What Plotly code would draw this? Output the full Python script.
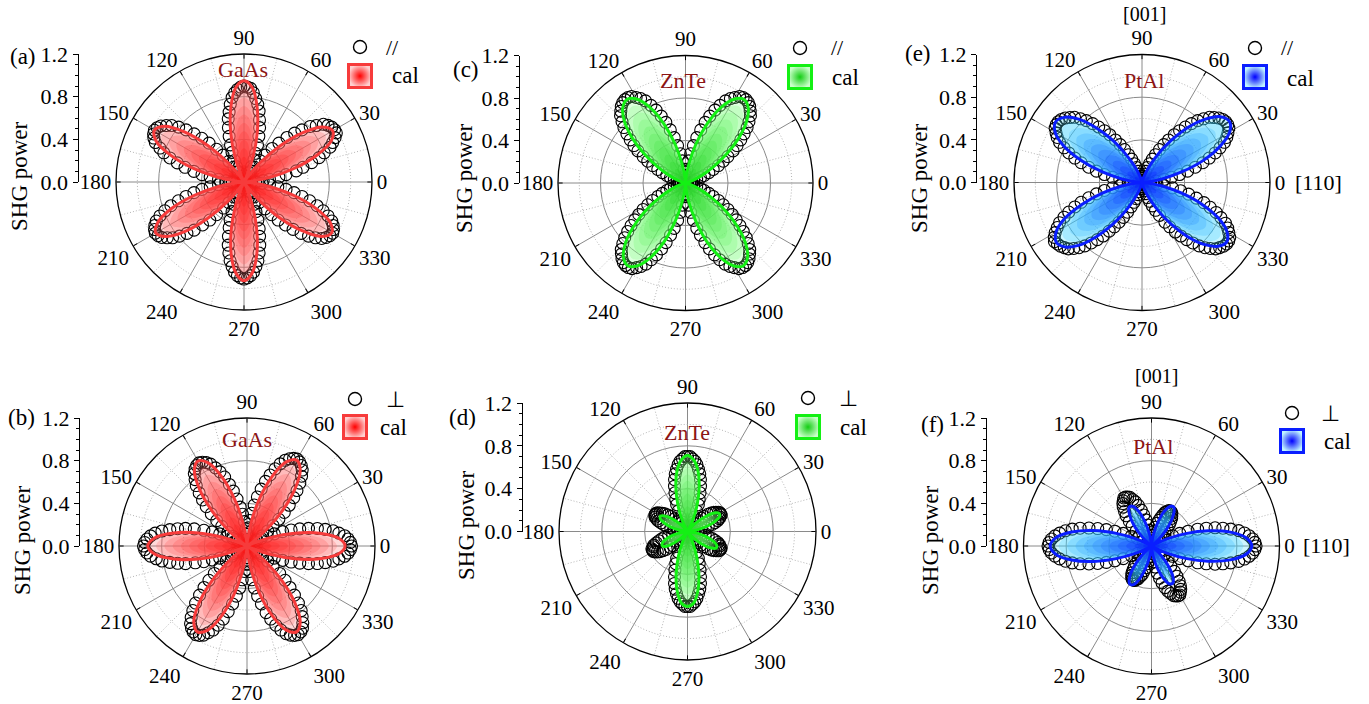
import plotly.graph_objects as go

W, H = 1369, 704
SERIF = "Liberation Serif, Times New Roman, serif"

# ---------------------------------------------------------------- data
THETA_MEAS = list(range(0, 360, 2))   # measured points every 2 deg
THETA_CAL = list(range(0, 360, 5))    # calculated curve every 5 deg

# (a) GaAs, parallel
GAAS_PAR_MEAS = [
    .07, .11, .18, .24, .33, .40, .50, .57, .66, .74, .80, .87, .91, .95, .98,
    .98, .97, .95, .92, .86, .81, .73, .66, .58, .49, .41, .32, .25, .17, .12,
    .06, .10, .16, .23, .29, .37, .45, .53, .60, .68, .74, .79, .84, .88, .89,
    .90, .89, .87, .84, .80, .74, .67, .61, .53, .45, .37, .30, .22, .16, .11,
    .06, .11, .17, .24, .32, .40, .49, .57, .65, .73, .80, .86, .90, .94, .96,
    .97, .96, .94, .91, .85, .80, .73, .65, .57, .48, .40, .32, .24, .17, .11,
    .07, .11, .17, .24, .32, .40, .48, .56, .64, .72, .79, .85, .90, .93, .95,
    .96, .95, .93, .89, .85, .79, .72, .65, .56, .48, .40, .31, .24, .17, .11,
    .06, .11, .16, .23, .30, .38, .45, .53, .61, .68, .75, .80, .85, .88, .90,
    .91, .90, .88, .85, .80, .75, .68, .61, .53, .46, .38, .30, .23, .16, .10,
    .06, .11, .17, .24, .32, .40, .48, .56, .64, .72, .79, .85, .90, .93, .95,
    .96, .95, .93, .90, .85, .79, .72, .64, .56, .48, .40, .32, .24, .17, .11,
]
GAAS_PAR_CAL = [
    0, .06, .24, .48, .72, .90,
    .96, .90, .72, .48, .24, .06,
    0, .06, .24, .48, .71, .89,
    .95, .89, .71, .48, .24, .06,
    0, .07, .24, .49, .73, .91,
    .97, .91, .73, .49, .24, .07,
    0, .06, .24, .48, .72, .89,
    .955, .89, .72, .48, .24, .06,
    0, .06, .23, .46, .69, .86,
    .925, .86, .69, .46, .23, .06,
    0, .06, .24, .48, .71, .89,
    .95, .89, .71, .48, .24, .06,
]

# (b) GaAs, perpendicular
GAAS_PERP_MEAS = [
    .98, .97, .95, .92, .87, .82, .75, .68, .60, .52, .44, .36, .28, .21, .15,
    .08, .11, .17, .24, .31, .39, .47, .55, .63, .70, .77, .83, .88, .91, .93,
    .94, .93, .91, .88, .83, .77, .70, .63, .55, .47, .39, .31, .24, .17, .11,
    .06, .11, .16, .23, .30, .37, .45, .53, .60, .68, .74, .79, .84, .87, .89,
    .90, .89, .87, .84, .79, .74, .67, .60, .53, .45, .37, .30, .22, .16, .11,
    .08, .15, .21, .28, .35, .43, .52, .60, .67, .74, .81, .87, .91, .94, .96,
    .97, .96, .94, .91, .86, .81, .74, .67, .60, .51, .43, .35, .28, .21, .15,
    .08, .11, .17, .24, .32, .40, .48, .56, .64, .72, .79, .85, .90, .93, .95,
    .96, .95, .93, .89, .85, .79, .72, .64, .56, .48, .40, .32, .24, .17, .11,
    .06, .11, .17, .24, .32, .40, .48, .56, .65, .72, .79, .85, .90, .93, .95,
    .96, .95, .93, .89, .84, .79, .72, .64, .56, .48, .40, .31, .24, .17, .11,
    .08, .15, .21, .28, .36, .44, .52, .60, .68, .75, .82, .87, .92, .95, .97,
]
GAAS_PERP_CAL = [
    .92, .86, .69, .46, .23, .06,
    0, .06, .23, .47, .70, .87,
    .93, .87, .70, .47, .23, .06,
    0, .06, .23, .46, .69, .86,
    .92, .86, .69, .46, .23, .06,
    0, .06, .23, .47, .70, .87,
    .93, .87, .70, .47, .23, .06,
    0, .06, .23, .47, .70, .87,
    .93, .87, .70, .47, .23, .06,
    0, .06, .23, .47, .70, .87,
    .93, .87, .70, .47, .23, .06,
    0, .06, .23, .46, .69, .86,
]

# (c) ZnTe, parallel
ZNTE_PAR_MEAS = [
    0, 0, 0, 0, .01, .02, .04, .06, .08, .11, .15, .19, .24, .29, .35,
    .41, .47, .54, .60, .66, .72, .78, .83, .88, .91, .94, .96, .97, .97, .96,
    .93, .90, .86, .80, .74, .67, .60, .52, .44, .36, .28, .21, .13, .07, .03,
    0, .03, .07, .13, .21, .28, .36, .44, .52, .60, .67, .74, .80, .86, .90,
    .93, .96, .97, .97, .96, .94, .91, .88, .83, .78, .72, .66, .60, .54, .47,
    .41, .35, .29, .24, .19, .15, .11, .08, .06, .04, .02, .01, 0, 0, 0,
    0, 0, 0, 0, .01, .02, .04, .06, .08, .11, .15, .19, .24, .29, .35,
    .41, .47, .53, .59, .65, .71, .77, .82, .87, .90, .93, .95, .96, .96, .95,
    .92, .89, .85, .79, .73, .66, .59, .51, .44, .36, .28, .21, .13, .07, .03,
    0, .03, .07, .13, .21, .28, .36, .44, .51, .59, .66, .73, .79, .85, .89,
    .92, .95, .96, .96, .95, .93, .90, .87, .82, .77, .71, .65, .59, .53, .47,
    .41, .35, .29, .24, .19, .15, .11, .08, .06, .04, .02, .01, 0, 0, 0,
]
ZNTE_PAR_CAL = [
    0, 0, .01, .03, .08, .17,
    .30, .47, .65, .81, .92, .96,
    .91, .78, .59, .38, .18, .05,
    0, .05, .18, .38, .59, .78,
    .91, .96, .92, .81, .65, .47,
    .30, .17, .08, .03, .01, 0,
    0, 0, .01, .03, .08, .17,
    .30, .47, .64, .80, .91, .95,
    .90, .77, .59, .37, .18, .05,
    0, .05, .18, .37, .59, .77,
    .90, .95, .91, .80, .64, .47,
    .30, .17, .08, .03, .01, 0,
]

# (d) ZnTe, perpendicular
ZNTE_PERP_MEAS = [
    .01, .01, .04, .06, .10, .13, .17, .20, .24, .27, .30, .32, .33, .35, .35,
    .35, .34, .32, .30, .28, .25, .21, .18, .14, .10, .06, .03, .01, .01, .03,
    .06, .10, .15, .21, .27, .32, .38, .44, .50, .55, .59, .63, .66, .68, .70,
    .70, .70, .68, .66, .63, .59, .55, .50, .44, .38, .32, .27, .21, .15, .10,
    .06, .03, .01, .01, .03, .06, .10, .13, .17, .21, .24, .27, .29, .31, .33,
    .34, .34, .34, .33, .31, .29, .26, .23, .20, .16, .13, .09, .06, .03, .01,
    .01, .01, .04, .07, .10, .14, .18, .22, .25, .28, .31, .34, .35, .37, .37,
    .37, .36, .34, .32, .29, .26, .22, .19, .14, .10, .07, .03, .01, .01, .03,
    .06, .10, .15, .21, .27, .32, .38, .44, .50, .55, .59, .63, .66, .68, .70,
    .70, .70, .68, .66, .63, .59, .55, .50, .44, .38, .32, .27, .21, .15, .10,
    .06, .03, .01, .01, .03, .06, .10, .14, .18, .21, .25, .28, .30, .32, .34,
    .35, .35, .35, .33, .32, .30, .27, .24, .20, .17, .13, .10, .06, .04, .01,
]
ZNTE_PERP_CAL = [
    0, .03, .09, .19, .27, .33,
    .34, .30, .21, .12, .04, 0,
    .03, .12, .26, .42, .57, .67,
    .71, .67, .57, .42, .26, .12,
    .03, 0, .03, .10, .18, .25,
    .29, .28, .23, .16, .08, .02,
    0, .02, .07, .15, .22, .26,
    .27, .24, .17, .09, .03, 0,
    .03, .12, .25, .41, .56, .67,
    .70, .67, .56, .41, .25, .12,
    .03, 0, .03, .11, .20, .27,
    .31, .30, .25, .17, .09, .02,
]

# (e) PtAl, parallel
PTAL_PAR_MEAS = [
    0, .03, .07, .13, .21, .28, .36, .44, .52, .60, .67, .74, .80, .86, .90,
    .93, .96, .97, .97, .96, .94, .91, .88, .83, .78, .72, .66, .60, .54, .47,
    .41, .35, .29, .24, .19, .15, .11, .08, .06, .04, .02, .01, 0, 0, 0,
    0, 0, 0, 0, .01, .02, .04, .06, .08, .11, .15, .19, .24, .29, .35,
    .41, .47, .54, .60, .66, .72, .78, .83, .88, .91, .94, .96, .97, .97, .96,
    .93, .90, .86, .80, .74, .67, .60, .52, .44, .36, .28, .21, .13, .07, .03,
    0, .03, .07, .13, .21, .28, .36, .44, .52, .60, .67, .74, .80, .86, .90,
    .94, .97, .99, .98, .97, .95, .93, .89, .85, .80, .74, .68, .62, .55, .49,
    .43, .37, .31, .25, .20, .16, .12, .09, .06, .04, .02, .01, 0, 0, 0,
    0, 0, 0, 0, .01, .02, .04, .06, .08, .11, .15, .19, .24, .29, .35,
    .43, .49, .56, .62, .68, .74, .80, .85, .89, .93, .95, .97, .98, .98, .97,
    .94, .91, .87, .81, .75, .68, .61, .53, .45, .37, .29, .21, .14, .08, .03,
]
PTAL_PAR_CAL = [
    0, .05, .19, .39, .62, .81,
    .95, 1.0, .96, .84, .68, .49,
    .32, .18, .08, .03, .01, 0,
    0, 0, .01, .03, .08, .18,
    .31, .49, .67, .84, .95, .99,
    .94, .81, .61, .39, .19, .05,
    0, .05, .19, .39, .60, .80,
    .93, .98, .94, .83, .66, .48,
    .31, .17, .08, .03, .01, 0,
    0, 0, .01, .03, .08, .17,
    .31, .48, .66, .82, .93, .97,
    .92, .79, .60, .38, .19, .05,
]

# (f) PtAl, perpendicular
PTAL_PERP_MEAS = [
    .98, .97, .95, .92, .88, .83, .76, .69, .62, .54, .46, .37, .29, .22, .15,
    .09, .04, .01, .01, .03, .07, .10, .14, .18, .22, .26, .29, .32, .34, .36,
    .37, .37, .37, .35, .34, .31, .28, .25, .22, .18, .14, .10, .07, .04, .01,
    0, .02, .05, .10, .15, .20, .25, .30, .35, .40, .44, .47, .50, .51, .52,
    .52, .50, .48, .45, .41, .37, .31, .26, .20, .15, .09, .05, .01, .01, .04,
    .09, .15, .21, .29, .37, .45, .53, .61, .69, .76, .82, .87, .91, .94, .96,
    .97, .96, .94, .91, .87, .82, .76, .69, .61, .53, .45, .37, .29, .21, .15,
    .09, .04, .01, .01, .03, .07, .10, .14, .18, .22, .25, .28, .31, .33, .35,
    .36, .36, .36, .34, .33, .30, .28, .24, .21, .17, .14, .10, .07, .04, .01,
    0, .02, .05, .10, .15, .20, .26, .31, .36, .41, .45, .48, .51, .52, .53,
    .53, .51, .49, .46, .42, .37, .32, .26, .21, .15, .10, .05, .01, .01, .04,
    .09, .15, .22, .29, .37, .46, .54, .62, .69, .76, .83, .88, .92, .95, .97,
]
PTAL_PERP_CAL = [
    .94, .89, .75, .55, .34, .16,
    .04, 0, .04, .14, .26, .36,
    .42, .41, .34, .23, .12, .03,
    0, .03, .12, .23, .34, .41,
    .42, .36, .26, .14, .04, 0,
    .04, .16, .34, .56, .76, .90,
    .95, .90, .76, .56, .34, .16,
    .04, 0, .04, .14, .26, .36,
    .41, .40, .33, .22, .11, .03,
    0, .03, .11, .22, .32, .39,
    .40, .35, .25, .14, .04, 0,
    .04, .16, .34, .55, .75, .89,
]

for arr in (GAAS_PAR_MEAS, GAAS_PERP_MEAS, ZNTE_PAR_MEAS, ZNTE_PERP_MEAS, PTAL_PAR_MEAS, PTAL_PERP_MEAS):
    assert len(arr) == len(THETA_MEAS)
for arr in (GAAS_PAR_CAL, GAAS_PERP_CAL, ZNTE_PAR_CAL, ZNTE_PERP_CAL, PTAL_PAR_CAL, PTAL_PERP_CAL):
    assert len(arr) == len(THETA_CAL)

R_MAX = 1.2
RADIAL_MAJOR = [0.4, 0.8]
RADIAL_MINOR = [0.2, 0.6, 1.0]
ANGLE_MINOR = [15 + 30 * i for i in range(12)]

# ---------------------------------------------------------------- styles
SCHEMES = {
    "red":   dict(line="#f73b3b", tip=(255, 110, 110), core=(255, 0, 0),  icon_edge="#ffd0d0"),
    "green": dict(line="#14f014", tip=(130, 255, 130), core=(20, 205, 20), icon_edge="#c8ffc8"),
    "blue":  dict(line="#0a1eff", tip=(60, 220, 255),  core=(0, 0, 255),  icon_edge="#bff4ff"),
}
N_LAYERS = 12
LAYER_ALPHA = 0.26
GRID_SOLID = "#8a8a8a"
GRID_DOT = "#b4b4b4"

PANELS = [
    dict(tag="(a)", name="GaAs", pol="//", meas=GAAS_PAR_MEAS, cal=GAAS_PAR_CAL, scheme="red",
         cx=244, cy=182, R=128, ax=77.5, tagxy=(23, 57), ylab=(19, 176), matxy=(243, 70),
         leg=(360, 47), polxy=(392, 48), sq=(360, 76), calxy=(405, 76)),
    dict(tag="(c)", name="ZnTe", pol="//", meas=ZNTE_PAR_MEAS, cal=ZNTE_PAR_CAL, scheme="green",
         cx=685.5, cy=183, R=127.5, ax=518.5, tagxy=(466, 70), ylab=(464, 178), matxy=(683, 80),
         leg=(800, 48), polxy=(837, 48), sq=(800, 77), calxy=(845, 77)),
    dict(tag="(e)", name="PtAl", pol="//", meas=PTAL_PAR_MEAS, cal=PTAL_PAR_CAL, scheme="blue",
         cx=1142, cy=182.5, R=128, ax=976, tagxy=(918, 54), ylab=(919, 178), matxy=(1144, 81),
         leg=(1255, 48), polxy=(1287, 48), sq=(1255, 77), calxy=(1300, 78),
         top=(1144, 14), right=(1318, 182)),
    dict(tag="(b)", name="GaAs", pol="⊥", meas=GAAS_PERP_MEAS, cal=GAAS_PERP_CAL, scheme="red",
         cx=247, cy=546, R=128, ax=79, tagxy=(22, 417), ylab=(22, 540), matxy=(247, 439),
         leg=(355, 399), polxy=(395, 399), sq=(355, 427), calxy=(393, 427)),
    dict(tag="(d)", name="ZnTe", pol="⊥", meas=ZNTE_PERP_MEAS, cal=ZNTE_PERP_CAL, scheme="green",
         cx=687.5, cy=531.5, R=128.5, ax=521.5, tagxy=(463, 417), ylab=(466, 525), matxy=(687, 432),
         leg=(808, 398), polxy=(848, 398), sq=(808, 427), calxy=(853, 427)),
    dict(tag="(f)", name="PtAl", pol="⊥", meas=PTAL_PERP_MEAS, cal=PTAL_PERP_CAL, scheme="blue",
         cx=1151.5, cy=546, R=128, ax=985.5, tagxy=(932, 425), ylab=(930, 540), matxy=(1153, 446),
         leg=(1292, 413), polxy=(1330, 413), sq=(1292, 441), calxy=(1337, 441),
         top=(1156, 376), right=(1326, 545)),
]


def fx(x):
    return x / W


def fy(y):
    return 1 - y / H


def rgba(c, a):
    return f"rgba({c[0]},{c[1]},{c[2]},{a})"


fig = go.Figure()
layout = dict(
    template="none",
    width=W, height=H, autosize=False,
    margin=dict(l=0, r=0, t=0, b=0, pad=0, autoexpand=False),
    paper_bgcolor="white", plot_bgcolor="rgba(0,0,0,0)",
    showlegend=False, font=dict(family=SERIF, size=22, color="black"),
    xaxis=dict(domain=[0, 1], range=[0, W], visible=False, fixedrange=True, automargin=False),
    yaxis=dict(domain=[0, 1], range=[H, 0], visible=False, fixedrange=True, automargin=False),
)
annotations = []

# dotted secondary grid (15 deg spokes, 0.2/0.6/1.0 rings)
spoke_r, spoke_t = [], []
for a in ANGLE_MINOR:
    spoke_r += [0, R_MAX, None]
    spoke_t += [a, a, None]
ring_r, ring_t = [], []
for rv in RADIAL_MINOR:
    ring_r += [rv] * 181 + [None]
    ring_t += [2 * i for i in range(181)] + [None]

for i, p in enumerate(PANELS):
    pid = "polar" if i == 0 else f"polar{i + 1}"
    sch = SCHEMES[p["scheme"]]
    cx, cy, R = p["cx"], p["cy"], p["R"]

    layout[pid] = dict(
        domain=dict(x=[fx(cx - R), fx(cx + R)], y=[fy(cy + R), fy(cy - R)]),
        bgcolor="white",
        angularaxis=dict(
            rotation=0, direction="counterclockwise", dtick=30, ticksuffix="",
            tickfont=dict(family=SERIF, size=21, color="black"),
            showline=True, linecolor="black", linewidth=1.3,
            showgrid=True, gridcolor=GRID_SOLID, gridwidth=1,
            ticks="inside", ticklen=4, tickcolor="black",
        ),
        radialaxis=dict(
            range=[0, R_MAX], tickvals=RADIAL_MAJOR, showticklabels=False, ticks="",
            showline=False, showgrid=True, gridcolor=GRID_SOLID, gridwidth=1,
        ),
    )

    fig.add_trace(go.Scatterpolar(r=spoke_r, theta=spoke_t, mode="lines", subplot=pid,
                                  line=dict(color=GRID_DOT, width=1, dash="1px,2px"),
                                  hoverinfo="skip", showlegend=False))
    fig.add_trace(go.Scatterpolar(r=ring_r, theta=ring_t, mode="lines", subplot=pid,
                                  line=dict(color=GRID_DOT, width=1, dash="1px,2px"),
                                  hoverinfo="skip", showlegend=False))

    # measured points
    fig.add_trace(go.Scatterpolar(
        r=p["meas"], theta=THETA_MEAS, mode="markers", subplot=pid,
        marker=dict(symbol="circle-open", size=12, color="black", line=dict(width=1.1)),
        hoverinfo="skip", showlegend=False))

    # calculated curve: stacked translucent fills give a centre-to-tip gradient
    cal_r = p["cal"] + [p["cal"][0]]
    cal_t = THETA_CAL + [360]
    for k in range(N_LAYERS):
        scale = 1 - k / N_LAYERS
        t = k / (N_LAYERS - 1)
        col = tuple(round(sch["tip"][j] + (sch["core"][j] - sch["tip"][j]) * t) for j in range(3))
        fig.add_trace(go.Scatterpolar(
            r=[v * scale for v in cal_r], theta=cal_t, mode="lines", subplot=pid,
            line=dict(width=0, shape="spline", smoothing=1),
            fill="toself", fillcolor=rgba(col, LAYER_ALPHA),
            hoverinfo="skip", showlegend=False))
    fig.add_trace(go.Scatterpolar(
        r=cal_r, theta=cal_t, mode="lines", subplot=pid,
        line=dict(color=sch["line"], width=3, shape="spline", smoothing=1),
        hoverinfo="skip", showlegend=False))

    # radial scale drawn as a free y axis left of the circle
    yid = f"yaxis{i + 2}"
    layout[yid] = dict(
        anchor="free", position=fx(p["ax"]), side="left", automargin=False,
        domain=[fy(cy), fy(cy - R)], range=[0, R_MAX],
        tick0=0, dtick=0.4, tickformat=".1f",
        ticks="outside", ticklen=5, tickwidth=1, tickcolor="black",
        minor=dict(dtick=0.1, ticks="outside", ticklen=3, tickcolor="black", showgrid=False),
        showline=True, linecolor="black", linewidth=1,
        showgrid=False, zeroline=False, fixedrange=True,
        tickfont=dict(family=SERIF, size=22, color="black"),
    )
    fig.add_trace(go.Scatter(x=[None], y=[None], xaxis="x", yaxis=f"y{i + 2}",
                             hoverinfo="skip", showlegend=False))

    # legend glyphs
    fig.add_trace(go.Scatter(
        x=[p["leg"][0]], y=[p["leg"][1]], mode="markers", xaxis="x", yaxis="y",
        marker=dict(symbol="circle-open", size=13, color="black", line=dict(width=1.4)),
        hoverinfo="skip", showlegend=False))
    fig.add_trace(go.Scatter(
        x=[p["sq"][0]], y=[p["sq"][1]], mode="markers", xaxis="x", yaxis="y",
        marker=dict(symbol="square", size=23, color=sch["icon_edge"],
                    gradient=dict(type="radial", color=rgba(sch["core"], 1)),
                    line=dict(color=sch["line"], width=3)),
        hoverinfo="skip", showlegend=False))

    def note(text, xy, size=23, color="black", angle=0):
        annotations.append(dict(
            text=text, x=fx(xy[0]), y=fy(xy[1]), xref="paper", yref="paper",
            xanchor="center", yanchor="middle", showarrow=False, textangle=angle,
            font=dict(family=SERIF, size=size, color=color)))

    note(p["tag"], p["tagxy"])
    note("SHG power", p["ylab"], angle=-90)
    note(p["name"], p["matxy"], size=22, color="#8c1414")
    note(p["pol"], p["polxy"], size=22)
    note("cal", p["calxy"], size=23)
    if "top" in p:
        note("[001]", p["top"], size=20)
        note("[110]", p["right"], size=22)

layout["annotations"] = annotations
fig.update_layout(**layout)
fig.write_html("out.html")
